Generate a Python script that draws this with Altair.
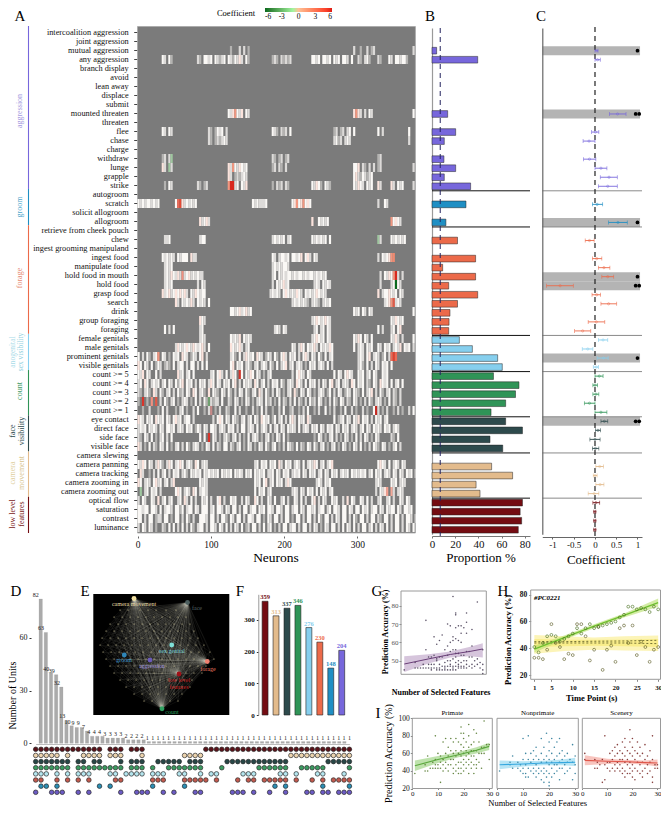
import altair as alt
import pandas as pd

SERIF = "Liberation Serif"
FEATURES = ["intercoalition aggression","joint aggression","mutual aggression","any aggression","branch display","avoid","lean away","displace","submit","mounted threaten","threaten","flee","chase","charge","withdraw","lunge","grapple","strike",
"autogroom","scratch","solicit allogroom","allogroom",
"retrieve from cheek pouch","chew","ingest grooming manipuland","ingest food","manipulate food","hold food in mouth","hold food","grasp food","search","drink","group foraging","foraging",
"female genitals","male genitals","prominent genitals","visible genitals",
"count >= 5","count >= 4","count >= 3","count >= 2","count >= 1",
"eye contact","direct face","side face","visible face",
"camera slewing","camera panning","camera tracking","camera zooming in","camera zooming out",
"optical flow","saturation","contrast","luminance"]
GROUP_NAMES = ["aggression","groom","forage","genitals","count","face","camera","low"]
GROUP_SIZES = [18,4,12,4,5,4,5,4]
GROUP_COLORS = ["#7767dc","#1f8fc4","#ec6a4a","#86cfee","#2f9457","#2d4a4c","#e3bb8c","#740c12"]

PROPORTION = [0,0,4,39.4,0,0,0,0,0,13.5,0,20.4,10.6,0,10.3,20.4,10.6,33.3,
0,29.3,0,12,
0,22,0,37.6,9.2,37.6,14.4,39.4,22,15.5,14.7,14.4,
23.6,34.8,56.6,60.6,
53,75,72,63.5,50.9,
63.5,78,50,61,
0,51.4,69.5,38,41.4,
78,76,77.3,74.4]

COEF_LO = [None,None,0,0,None,None,None,None,None,.34,None,-.08,-.28,None,-.27,0,.125,.08,
None,-.06,None,.32,
None,-.23,None,-.06,.08,.16,-1.14,-.07,.14,None,-.16,-.48,
.08,-.30,.05,-.04,
0,-.05,-.05,-.25,0,
.14,.01,-.12,-.06,
None,.02,-.04,.02,-.16,
-.05,-.03,-.03,-.03]
COEF_MID = [None,None,.04,.06,None,None,None,None,None,.53,None,.01,-.14,None,-.13,.14,.33,.30,
None,.05,None,.54,
None,-.13,None,.04,.21,.30,-.82,.04,.32,None,.03,-.29,
.19,-.17,.2,.03,
.1,0,.02,-.13,.14,
.22,.07,0,.01,
None,.11,0,.12,-.02,
.02,0,0,0]
COEF_HI = [None,None,.07,.125,None,None,None,None,None,.73,None,.09,0,None,.02,.28,.525,.525,
None,.18,None,.76,
None,-.02,None,.16,.35,.44,-.51,.13,.51,None,.23,-.10,
.30,-.05,.31,.08,
.19,.06,.09,0,.28,
.30,.13,.12,.09,
None,.2,.05,.21,.09,
.11,.02,.02,.02]
SIG_ONE = ["mutual aggression","allogroom","hold food in mouth","prominent genitals"]
SIG_TWO = ["mounted threaten","hold food","eye contact"]

# heat map stripes: one char is three neurons
SPARSE = {
"mutual aggression":[(126,"m"),(138,"l"),(144,"l"),(150,"m"),(294,"l"),(303,"m"),(312,"l"),(318,"m"),(321,"l"),(375,"l")],
"any aggression":[(34,"wl.wm"),(81,"lm.wwlw.wlmlw.wlmwlpl.wm"),(184,"mlm.lmlml"),(238,"wwlw.wwlw.wlw.wwl.w"),(300,"lm.lwm."),(327,"lm"),(344,"wl.wwlwwm")],
"mounted threaten":[(125,"wlprwlp.wl"),(294,"prpl.l.wl"),(375,"wl")],
"flee":[(34,"wl.wl"),(96,"lm.mwlw.l"),(183,"wlm.lml.w"),(267,"ml.ml.lw.w"),(327,"w.l"),(369,"w.")],
"chase":[(96,"lm.mlmlwl."),(267,"lwml.lwl"),(369,"l.")],
"withdraw":[(34,"ml.lg"),(183,"lm.ml.ml"),(327,"ml.")],
"lunge":[(34,"pl.gl"),(125,"plrwlpwlw."),(183,"ml.lm.l"),(294,"wwp.lm.l.l"),(327,"ml"),(375,"l")],
"grapple":[(125,"pl.mlmlwl."),(294,"wplmwlmlw")],
"strike":[(36,"m.wl."),(81,"lm.ml"),(125,"rSRlw.wlp"),(183,"m.lml.lm"),(238,"wlpwm.wlm"),(294,"wlpwl.wlw"),(327,"pl."),(345,"pl.wlw"),(375,"l")],
"scratch":[(1,"wlwlwwlwlw."),(51,"wlRplwlwlw"),(158,"wlwlllw."),(210,"wprwprwpw"),(327,"l"),(336,"wl")],
"allogroom":[(84,"plwpl"),(238,"p"),(247,"wlwlw."),(346,"rwpwl")],
"chew":[(36,"llw."),(85,"lww."),(184,"lwlwlw.lw"),(238,"wlwlwlw.w"),(327,"gl."),(345,"wlwlwlw")],
"ingest food":[(35,"wlwlwl.wlwww.pll"),(183,"wl.lwwlw.wwlwp.wpl.wl"),(328,"l.wlwprl.")],
"manipulate food":[(36,"lwlw."),(183,"lwlwlwwl.")],
"hold food in mouth":[(37,"lwlpwlplwlwplwlwll"),(184,"lw.wlwlwwlwlwwlwlwwlwlwlw"),(331,"l.wlpwrwl.l")],
"hold food":[(37,"lwlw"),(83,"l.wl"),(184,"l.wlwplw"),(242,"lwl.wlwl"),(331,"l.."),(345,"lwgwl")],
"grasp food":[(34,"plwplwpwpwpl.wlpwlww"),(182,"lwlwl.wpwlwlpwl.wlwlwpwlwl"),(328,"p.lwwpwlw.wl")],
"search":[(51,"pl.wlwlpl.wlwl.w"),(210,"lwlwlwlm.lwlm.lwlw"),(337,"lwprwlwl")],
"drink":[(125,".wwlwplwplw"),(294,"wlw.wl.wl"),(375,"w")],
"group foraging":[(84,"pwl."),(238,"lwpwlwpwl"),(345,"wlpwlw")],
"foraging":[(37,"w.l.w"),(85,"lw."),(187,"lwl.wl"),(240,"lw.lw.wl"),(328,"w.l"),(345,"lw.wp.")],
"female genitals":[(84,"lwl"),(126,"wlwlp.wlwl"),(238,"lwpwlw.wl"),(295,"wlpw.wl.w"),(345,"wlpl.l"),(375,"w")],
"male genitals":[(51,"lpwlwpwlpwlwpl.w"),(126,"pwlwpl.lw."),(211,"wl.lpw.wlwpl.wlwlpw"),(295,"w.lwl.wlw"),(327,"wl.wlw.lwlp.wlw.l.lwl")],
}
DENSE = {
"prominent genitals":"w.l.wm.lwr .wl.m.wlw. pwl.mwl.wp .lwm.pl.wm w.lwm.w.lp wlw.pwl.mw l.wm.wpl.w lw.l.wpl.w l.wm.w.lw. lwm.wp.lw. lwl.wp.lwl .mw.l.w",
"visible genitals":"pw.wl.w.mw l.mlm.w.lw w.l.ww.l.w .wl.wmw.lw l.wp.wlw.l wm.lw.lwl. wm.w.lwp.l w.lwl.m.wl w.lwl.w.l. wl.w.lw.w. lwm.w.l.wl .wlw.w.",
"count >= 5":"wlp.wl..w. l.ww.lw.pl w.lw.w.l.m w.plw.wpl. w.lpw.lw.w lpw.wl.m.l w.lwp.w.lw l.wpwl.wl. wlw.prwl.w .wl.wpwl.. wlw.lw.wl. .wlw.w.lw.w",
"count >= 4":"lw.pw.lwlw .lw.wl.wmw p.wlw.l.wl w.lpw.wl.w lw.wp.l.wl wl.pw.lw.l .wlw.wm.lw l.pwl.w.wl w.l.wl.wp. lw.lwl.pw. wlw.lm.wl. pwlw.w.lw.w",
"count >= 3":"lm.lwm.pl. wm.lw.l.wm l.wl.pw.lw m.p.wlm.wl .wm.l.wl.w m.lw.pl.wm .l.wl.m.lw .pm.wl.wl. m.lwl.mw.l .wl.mwl.wl m.w.lwp.l. wm.lw.lm.l.",
"count >= 2":"m.r.m.l.m. l.wm.lw.m. lwl.m.w.l. wm.lmll.w. .lm.wl.m.w l.m.lwl.wm l.m.w.lm.l .w.lm.l.wm l.wl.m.l.w m.wl.lm.wl .m.l.wm.lw l.m.w.lm.l.",
"count >= 1":"..m..l...m .w.l...m.l w.m..l.w.. m.l..m.l.. lm..w.l..m ..l.m.w.l. .m..l.w..m l..m.l.w.. m.l..w.m.l ..m.w..l.m ..l.m..w.l .m.l..m.l. m..l.w..l.",
"eye contact":"pwl.wlw.pw lw.wl.wplw .lww.l.wm. wlw.l.wpw. wl.wlm.lw. lw.wl.pwlw .mw.lw.l.w pl.wlw.pl. wlw.lm.wlw .mlw.wl.wl p.wlw.l.wl w.lw.mw.pl..",
"direct face":"lwlw.wlwl. wl.wwlw.lw l.wlw.mwl. wl.wwl.lwl .wlw.l.ww. lwl.w.lwl. w.lw.wl.wl wl.w.lwl.w lw.wl.wlw. wl.wlw.lwl .lw.wl.wlw l.wlw.lwl..",
"side face":"lm.wl.w.m. lw.l.w.m.l w.l.m.wlw. w.l.wl.m.l wm.lw.l.m. w.lwl.m.lw .m.wl.w.m. l.wm.l.wl. m.wl.m.lw. l.m.wl.m.w .l.wl.m.wl .m.w.lm.w.",
"visible face":"pl.m.w.lm. wl.w.m.lw. l.wm.lwl.m .wl.w.lm.w w.lm.lw.m. wl.m.wl.wm .lw.m.l.wl m.w.lm.wl. wm.lw.m.lw .m.wl.m.wl .w.m.l.wlm .wl.m.lw.l.",
"camera panning":"wlpw.wl.lp wm.lpw.lwp w.lwl.pw.l wl.lw.wl.w lw.lpw.lwl ww.lw.wlw. wlw.pl.wlw .lwl.w.lwl pw.lw.lwp. wl.w.lw.l. w.lw.lwl.w pwl.w.lwl. wlw.w.lwl.l",
"camera tracking":".pl..m.l.w .lw.l.wlw. lwm.wlwlw. wlwlwlw.wl wlw.wlwl.w lw.wlwlw.l lw.wl.wlw. lwlw.wl.wl w.lw.wl.wl w.lwlw.wlw lwlw.lw.wl w.lwl.wl.w l.wlw.wl.",
"camera zooming in":"pw.lwl.wpl w.lw.lpw.l wlw.lpw.wl wl.pwl.w.l w.l.w.lpw. wl.wlw.wp. lw.wlw.lpw .lwl.w.wlw .lwl.wlw.l .wpl.wlw.l w.wlpw.wlw l.wl.wlw.l wlw.pwl.w.",
"camera zooming out":".g.lw.wlw. lw.lpl.wpw .lwl.pw.lw wl.lw.w.lw lw.wlw.lwp .wlw.wlw.l wl.lw.wlw. lwl.wl.wlw .w.wlw.lw. wl.wlw.lwl ..wlw.wgl.w lpw.wl.lwl .w.wlw.",
"optical flow":"l.wl..wl.p .lw.lw..lw .pl.w.l..w lw.l..wp.l ..wlw..l.w l..pw.l..w l.w..lw.l. .wl.w.l..w p.l.wl..wl w..l.p.wl. .wl.w.l..l w..lw.l..w l.wl..",
"saturation":"wwlww.wwl. w.lwwl.wwm w.lww.wl.w ww.lw.wwl. wl.ww.l.ww .lww.wlw.w wl.wwl.ww. lww.wl.wwl w.lww.lw.w wl.ww.wl.w w.wlw.lww. wl.wlww.wl .wwlw.",
"contrast":"ww.l.ww.ml l.ww.m.ww. l.wm.l..ww wl.ww.l.ww m.wl.ww.l. wwl.ww.m.w l.ww.l.ww. m.ww.l.ww. l.wm.ww.l. wl.ww.l.wm .ww.l.ww.l m.ww.l.ww. l.wwl.w",
"luminance":"l.wl.wl.m. .lm.w.w.l. w.l.wm.lww .l.wwl.wl. w.l.wl.w.m l.ww.l.w.l w.m.l.ww.l ww.l.ww.l. wl.m.wl.ww .l.w.wl.w. l.ww.lw.l. wl.w.l.ww. l.wl.w.",
}
GRAY_BLOCKS = {
"prominent genitals":[(97,126),(267,295)],
"visible genitals":[(97,126),(267,295)],
"count >= 5":[(35,51),(82,97),(183,210),(239,267),(344,368)],
"eye contact":[(82,97),(240,267),(344,366)],
"side face":[(51,82),(208,239),(335,344)],
"camera panning":[(97,158),(267,322),(366,379)],
"camera zooming in":[(51,83),(97,158),(210,238),(267,323),(335,345),(366,379)],
"camera zooming out":[(34,51),(97,158),(183,210),(267,323),(366,379)],
}
ACCENTS = [("count >= 5",138,"#d8342a"),("count >= 2",7,"#d8342a"),("count >= 2",24,"#e05a48"),("count >= 2",18,"#f09080"),("count >= 2",98,"#6f9f6f"),
("count >= 1",324,"#c82820"),("count >= 1",100,"#c78a88"),("prominent genitals",348,"#e0402e"),("prominent genitals",345,"#ec6a56"),("prominent genitals",351,"#ec6a56"),
("camera zooming out",341,"#f5a090"),("camera zooming out",345,"#f4a898"),("side face",98,"#d8342a"),("strike",129,"#d8281e"),("hold food in mouth",351,"#d8281e"),
("hold food",351,"#0b6a1e"),("hold food in mouth",60,"#f09080"),("ingest food",349,"#ef8a70"),("scratch",54,"#e86a58"),("search",350,"#e05a48")]
CHAR_COLOR = {"w":"#faf8f5","l":"#dcdad8","m":"#b4b3b1","p":"#fbe3dc","r":"#f2967f","R":"#e44a35","S":"#d8281e","g":"#9fc79f"}

# UpSet panel
UPSET_COUNTS = [82,63,40,39,32,13,10,9,9,7,4,4,4,3,3,3,3,2,2,2,2]+[1]*39
UPSET_ROWS = [
[0,1,2,3,4,5,6,7,8,9,10,11,12,14,15,16,18,19,20,32,33,34,35,36,37,38,39,40,41,42,43,44,45,46,47,48,49,50,51,52,53,54,55,56,57,58,59],
[0,1,2,3,4,6,9,10,11,12,14,15,16,20,28,29,30,31,48,49,50,51,52,53,54,55,56,57,58,59],
[0,1,2,3,4,5,6,8,9,11,12,16,18,19,20,23,24,25,26,27,29,30,31,36,37,38,39,40,41,42,43,44,45,46,47,55,56,57,58,59],
[0,1,2,3,4,5,6,8,9,10,11,12,13,14,15,16,18,19,20,22,25,26,27,28,29,30,31,35,42,43,44,45,46,47,50,51,52,53,54,59],
[0,1,2,4,6,8,9,10,14,15,17,18,19,20,22,23,24,27,28,31,33,34,39,40,41,46,47,49,53,54,58],
[0,1,4,6,8,10,15,16,22,23,24,28,29,30,31,32,34,38,40,41,43,44,45,46,47,49,52,54,56,57,58,59],
[1,2,4,12,14,22,28,45,47,54,59],
[0,3,4,5,8,10,16,19,20,21,24,26,30,31,37,38,39,41,44,47,51,52,54,55,57,58,59],
]
UPSET_COLORS = ["#5b1219","#ecd3ad","#274646","#3b9a60","#b5e6ef","#c35a4e","#2b8fb5","#6c5bc4"]

# network panel
E_HUBS = {"camera":(134,598.5,"#f0dfa0"),"face":(187.5,602.5,"#4d5f5f"),"genital":(171.7,645,"#7fe0d8"),"forage":(207.3,661.5,"#f08070"),
"low":(179,674,"#a01018"),"count":(162,708.7,"#2fa060"),"aggression":(150,660,"#6a5ab8"),"groom":(124.3,655,"#2f86b8")}
E_DOTS = {610:[120,128,140,148,156,166,176],
617:[114,122,130,138,146,154,162,170,178,186],
624:[110,118,126,134,142,150,158,166,174,182,190],
631:[106,114,122,130,138,146,154,162,170,178,186,194],
638:[102,110,118,126,134,142,150,158,166,174,182,190,198],
645:[100,108,116,124,132,140,148,156,164,180,188,196,204],
652:[103,111,119,127,135,143,151,159,167,175,183,191,199,210],
659:[106,114,122,130,138,146,154,162,170,178,186,194,214],
666:[110,118,126,134,142,150,158,166,174,190,198,206],
673:[114,122,130,138,146,154,162,186,194,202],
680:[120,128,136,144,152,160,168,176,184,192],
687:[126,134,142,150,158,166,174,182,190],
694:[134,142,150,158,166,174,182],
701:[144,152,170,178]}

F_NAMES = ["low","camera","face","count","genitals","forage","groom","aggression"]
F_VALUES = [359,313,337,346,276,230,148,204]
F_COLORS = ["#740c12","#e3bb8c","#2d4a4c","#2f9457","#86cfee","#ec6a4a","#1f8fc4","#7767dc"]

G_POINTS = {1:[45],5:[49,46],6:[46],7:[46],8:[48,46],9:[72,56,46],10:[52,46,48],11:[52,48,46,45],12:[46,48,53,63],13:[46,50,45,51,59],14:[48,46,45,52,61],15:[64,52,47,45],16:[56,49,47,46,45],17:[70,58,53,47,45,50],18:[69,60,50,48,47,45,55],19:[85,63,61,56,51,47,46,45],20:[75,76,68,62,56,52,49,47,45,54],21:[69,61,54,50,47,46,48],22:[69,65,60,53,49,47,46],23:[68,53,50,47,46],24:[76,71,65,55,50,48,46],25:[55,52,47],26:[67,58,52,48,46],27:[50,47],28:[82,51,48],29:[49,46],30:[56,48,45,43]}
H_GREEN = [41,37,44,49,50,49,45,47,49,51,55,51,55,58,55,56,57,58,59,60,63,65,71,71,69,70,69,67,71,69]
H_CHANCE = [33,33,32,39,58,44,41,32,36,35,58,58,49,31,39,56,24,39,42,30,55,57,44,57,35,45,41,30,39,41]
I_PRIMATE = {1:[37],5:[40,47],6:[40,57],7:[43],8:[50,43],9:[80,53,47,43],10:[60,47,43],11:[27,57,50,43],12:[73,53,47,40],13:[77,60,50,43],14:[67,57,47,40],15:[77,63,53,47],16:[73,60,53,43,37],17:[77,63,57,47,40],18:[73,60,50,43,37],19:[90,83,70,63,57,50,43,37],20:[83,77,67,60,53,47,40],21:[73,63,57,50,43],22:[93,80,67,60,53,47,37],23:[70,63,57,50,43],24:[87,73,63,57,47,37],25:[83,63,53,47,43],26:[73,60,50],27:[67,60,43],28:[97,67,60],29:[70],30:[70,53]}
I_NONPRIMATE = {1:[40],5:[50,47],6:[57,43],8:[50,43],9:[47,40],10:[77,53,43,37],11:[60,47,37,33],12:[80,53,43,33],13:[60,50,40],14:[63,53,43,37],15:[67,57,47,40,33],16:[53,43,37],17:[77,60,50,40,30],18:[67,53,43,37,27],19:[83,57,50,40,33],20:[73,63,53,47,37,27,23],21:[77,60,50,43,33],22:[67,53,47,37],23:[73,57,47,40],24:[77,60,50,43,30],25:[63,53,43],26:[57,47,37],27:[60,50,40],28:[53,43],29:[70,50,30],30:[57,47,37]}
I_SCENERY = {1:[60,53],5:[53,43],6:[50,43],7:[47],8:[53,27],9:[80,30,47],10:[50,43],11:[60,50,40],12:[63,53,43],13:[67,57,47,40],14:[70,60,50,43],15:[63,53,47,40],16:[73,60,53,43,37],17:[77,67,57,50,40,33],18:[63,53,47,37],19:[87,73,60,50,43,37],20:[77,67,57,47,40,33],21:[63,53,43,30],22:[73,60,50,40],23:[67,57,47,37],24:[60,50,40,33],25:[70,53,43],26:[57,47,37],27:[63,50,40],28:[80,53,33,27],29:[47,43],30:[47,43]}
G_FIT = {"x":[1,10,18,25,30],"y":[48.2,51,53.4,55,56.4],"lo":[43.8,48.5,51.8,52.5,51.8],"hi":[52.5,53.5,55,57.5,59.5]}
H_FIT = {"x":[1,8,15,22,30],"y":[39.5,48,56.5,64.5,74],"lo":[37,46.5,55,63,71],"hi":[42,49.5,58,66,77]}
H_FLAT = {"x":[1,8,15,22,30],"lo":[36,38,39,38.5,38],"hi":[50,49,48,49,49.5],"lo2":[41,41.5,42,41.5,41],"hi2":[47,46.5,46.5,46.5,47],"a":[44,44,44,44,43.5],"b":[45,45,45.3,45.5,46]}
I_FITS = {"primate":{"x":[1,10,18,25,30],"y":[46,53,58.5,63.5,68],"lo":[40,49,55.5,60,64],"hi":[52,57,61.5,67,72]},
"nonprimate":{"x":[1,10,18,25,30],"y":[47,48,49,49.5,50],"lo":[42,45,46.5,46.5,45.5],"hi":[52,51,51.5,53,55]},
"scenery":{"x":[1,10,18,25,30],"y":[52,51,50.5,49.5,49],"lo":[46.5,48,48.5,47,45],"hi":[58,54,52.5,52,53]}}

W, H = 653, 799
ONE = pd.DataFrame({"a": [0]})
L = []

def qs(dom, a, b):
    return alt.Scale(domain=dom, range=[a - 8, b - 8], nice=False, zero=False)

def Xq(f, dom, a, b, axis=None):
    return alt.X(f, type="quantitative", scale=qs(dom, a, b), axis=axis)

def Yq(f, dom, a, b, axis=None):
    return alt.Y(f, type="quantitative", scale=qs(dom, a, b), axis=axis)

def bottom(y, **kw):
    kw.setdefault("title", None)
    return alt.Axis(orient="bottom", offset=y - 8 - H, **kw)

def left(x, **kw):
    kw.setdefault("title", None)
    return alt.Axis(orient="left", offset=-(x - 8), **kw)

def label(text, x, y, size=9, color="black", angle=0, weight="normal", style="normal", align="center", font=SERIF):
    L.append(alt.Chart(ONE).mark_text(font=font, fontSize=size, color=color, angle=angle, fontWeight=weight,
                                      fontStyle=style, align=align, baseline="middle")
             .encode(x=alt.value(x - 8), y=alt.value(y - 8), text=alt.value(text)))

def box(x0, x1, y0, y1, fill="transparent", stroke="#9a9a9a", sw=1.0):
    L.append(alt.Chart(ONE).mark_rect(fill=fill, stroke=stroke, strokeWidth=sw)
             .encode(x=alt.value(x0 - 8), x2=alt.value(x1 - 8), y=alt.value(y0 - 8), y2=alt.value(y1 - 8)))

def expand(d):
    return pd.DataFrame([{"x": x, "y": y} for x, ys in d.items() for y in ys])

group_of = []
for n, s in zip(GROUP_COLORS, GROUP_SIZES):
    group_of += [n] * s
edges = []
t = 0
for s in GROUP_SIZES:
    edges.append((t, t + s))
    t += s

# ---------- A ----------
A_X0, A_X1 = 137.5, 137.5 + 379 * 0.7333
box(A_X0, A_X1, 26.5, 533, fill="#7b7b7b", stroke="#a8a8a8", sw=0.8)
bg = pd.DataFrame({"feature": FEATURES, "a": 0, "b": 379})
row_band = alt.Scale(domain=FEATURES, range=[26.5 - 8, 533 - 8], paddingInner=0, paddingOuter=0, round=True)
L.append(alt.Chart(bg).mark_rect(opacity=0).encode(
    x=Xq("a", [0, 379], A_X0, A_X1, bottom(536, values=[0, 100, 200, 300], labelFontSize=9.5, tickColor="#666",
                                           domain=False, tickSize=2, labelPadding=1)),
    x2="b",
    y=alt.Y("feature:N", scale=row_band, sort=FEATURES,
            axis=left(136.7, labelFontSize=8.3, tickSize=3, labelPadding=5.5, domain=False, tickColor="#444",
                      labelLimit=200, labelBaseline="middle"))))
cells = []
for fi, feat in enumerate(FEATURES):
    arr = ["."] * 127
    for st, pat in SPARSE.get(feat, []):
        c0 = st // 3
        for j, ch in enumerate(pat):
            if c0 + j < 127:
                arr[c0 + j] = ch
    if feat in DENSE:
        pat = DENSE[feat].replace(" ", "")
        for j, ch in enumerate(pat[:127]):
            arr[j] = ch
    for a, b in GRAY_BLOCKS.get(feat, []):
        for j in range(a // 3, min(127, (b + 2) // 3)):
            arr[j] = "."
    vals = [CHAR_COLOR.get(ch) for ch in arr]
    for fn, ne, col in ACCENTS:
        if fn == feat:
            vals[ne // 3] = col
    j = 0
    while j < 127:
        k = j
        while k + 1 < 127 and vals[k + 1] == vals[j]:
            k += 1
        if vals[j] is not None:
            cells.append({"feature": feat, "a": j * 3, "b": min(379, (k + 1) * 3), "c": vals[j]})
        j = k + 1
L.append(alt.Chart(pd.DataFrame(cells)).mark_rect(strokeWidth=0).encode(
    x=Xq("a", [0, 379], A_X0, A_X1), x2="b",
    y=alt.Y("feature:N", scale=row_band, sort=FEATURES, axis=None),
    color=alt.Color("c:N", scale=None)))
LEGEND_VALUES = [-6, -3, 0, 3, 6]
L.append(alt.Chart(pd.DataFrame({"k": LEGEND_VALUES})).mark_point(opacity=0).encode(
    x=alt.value(300), y=alt.value(10),
    color=alt.Color("k:Q", scale=alt.Scale(domain=[-6, 0, 6], range=["#0b6a1e", "#ffffff", "#dd1c14"]),
                    legend=alt.Legend(orient="none", legendX=257, legendY=-3, direction="horizontal", title=None,
                                      gradientLength=67, gradientThickness=7, values=LEGEND_VALUES, symbolOpacity=1,
                                      labelFont=SERIF, labelFontSize=7.5, labelExpr="datum.value", labelOffset=1))))
label("Coefficient", 236, 13, size=8.5)

strip = pd.DataFrame({"a": [e[0] for e in edges], "b": [e[1] for e in edges], "c": GROUP_COLORS})
L.append(alt.Chart(strip).mark_rule(strokeWidth=1.1).encode(
    x=alt.value(28.5 - 8), y=Yq("a", [0, 56], 26, 533), y2="b", color=alt.Color("c:N", scale=None)))
label("aggression", 20, 111, size=8, color="#a39ae0", angle=270)
label("groom", 20, 207, size=8, color="#4ca6cc", angle=270)
label("forage", 20, 278, size=8, color="#e58a72", angle=270)
label("anogenital", 13, 352, size=7.5, color="#a8dbe8", angle=270)
label("sex visibility", 21, 352, size=7.5, color="#8fd0e0", angle=270)
label("count", 20, 391, size=8, color="#3f9a66", angle=270)
label("face", 13, 431, size=8, color="#2d4a4c", angle=270)
label("visibility", 22, 431, size=8, color="#2d4a4c", angle=270)
label("camera", 13, 473, size=8, color="#e0cfa0", angle=270)
label("movement", 22, 473, size=8, color="#d8c48e", angle=270)
label("low level", 13, 514, size=8, color="#7a1a20", angle=270)
label("features", 22, 514, size=8, color="#7a1a20", angle=270)
label("Neurons", 276, 558, size=13.5)
label("A", 20, 16, size=15)
label("B", 430, 16, size=15)
label("C", 541, 16, size=15)

# ---------- B ----------
bars = pd.DataFrame({"feature": FEATURES, "v": PROPORTION, "c": group_of})
bars = bars[bars.v > 0]
band_b = alt.Scale(domain=FEATURES, range=[28.1 - 8, 534.3 - 8], paddingInner=0.26, paddingOuter=0.13)
BX = ([0, 84.5], 432, 530)
L.append(alt.Chart(bars).mark_bar(stroke="#222", strokeWidth=0.5).encode(
    x=Xq("v", *BX, axis=bottom(536, values=[0, 20, 40, 60, 80], labelFontSize=11, domain=True, domainColor="#777",
                               tickColor="#777", tickSize=2, labelPadding=0)),
    y=alt.Y("feature:N", scale=band_b, sort=FEATURES, axis=left(432, labels=False, ticks=False, domainColor="#9a9a9a", domainWidth=1.2)),
    color=alt.Color("c:N", scale=None)))
sep = pd.DataFrame({"r": [18, 22, 34, 38, 43, 47, 52]})
L.append(alt.Chart(sep).mark_rule(color="#111", strokeWidth=1).encode(
    y=Yq("r", [0, 56], 28.1, 534.3), x=alt.value(432 - 8), x2=alt.value(530 - 8)))
L.append(alt.Chart(pd.DataFrame({"v": [7.1]})).mark_rule(color="#23235f", strokeWidth=1, strokeDash=[5, 4]).encode(
    x=Xq("v", *BX), y=alt.value(28 - 8), y2=alt.value(536 - 8)))
label("Proportion %", 481, 558, size=13)

# ---------- C ----------
CX = ([-1.24, 1.106], 542.3, 642)
band_c = alt.Scale(domain=FEATURES, range=[28.1 - 8, 534.3 - 8], paddingInner=0, paddingOuter=0)
sig = pd.DataFrame({"feature": SIG_ONE + SIG_TWO, "a": -1.24, "b": 1.06})
L.append(alt.Chart(sig).mark_rect(color="#b4b4b4").encode(
    x=Xq("a", *CX, axis=bottom(537, values=[-1, -.5, 0, .5, 1], labelFontSize=9, labelExpr="datum.value", domainColor="#666",
                               tickColor="#666", tickSize=2, labelPadding=1)),
    x2="b",
    y=alt.Y("feature:N", scale=band_c, sort=FEATURES, axis=left(542.3, labels=False, ticks=False, domainColor="#666", domainWidth=1.2))))
L.append(alt.Chart(sep).mark_rule(color="#8a8a8a", strokeWidth=1).encode(
    y=Yq("r", [0, 56], 28.1, 534.3), x=alt.value(542.3 - 8), x2=alt.value(642 - 8)))
L.append(alt.Chart(pd.DataFrame({"v": [0]})).mark_rule(color="#222", strokeWidth=1.2, strokeDash=[5, 4]).encode(
    x=Xq("v", *CX), y=alt.value(27 - 8), y2=alt.value(536 - 8)))
ci = pd.DataFrame({"feature": FEATURES, "lo": COEF_LO, "mid": COEF_MID, "hi": COEF_HI, "c": group_of}).dropna()
for fld, _mark in (("lo", "t"), ("hi", "t")):
    L.append(alt.Chart(ci).mark_tick(orient="vertical", size=4, thickness=0.8).encode(
        x=Xq(fld, *CX), y=alt.Y("feature:N", scale=band_c, sort=FEATURES, axis=None), color=alt.Color("c:N", scale=None)))
L.append(alt.Chart(ci).mark_rule(strokeWidth=0.9).encode(
    x=Xq("lo", *CX), x2="hi", y=alt.Y("feature:N", scale=band_c, sort=FEATURES, axis=None), color=alt.Color("c:N", scale=None)))
L.append(alt.Chart(ci).mark_point(filled=False, size=5, strokeWidth=0.7).encode(
    x=Xq("mid", *CX), y=alt.Y("feature:N", scale=band_c, sort=FEATURES, axis=None), color=alt.Color("c:N", scale=None)))
stars = pd.DataFrame([{"feature": f, "x": 1.0} for f in SIG_ONE] + [{"feature": f, "x": x} for f in SIG_TWO for x in (.957, 1.04)])
L.append(alt.Chart(stars).mark_circle(color="#000", size=14, opacity=1).encode(
    x=Xq("x", *CX), y=alt.Y("feature:N", scale=band_c, sort=FEATURES, axis=None)))
label("Coefficient", 596, 559.5, size=13)

# ---------- D ----------
dcol = pd.DataFrame({"i": range(len(UPSET_COUNTS)), "n": UPSET_COUNTS})
DX = ([0, 59], 35.7, 349.4)
DY = ([0, 82], 743.3, 599)
L.append(alt.Chart(dcol).mark_bar(size=3.4, color="#ababab", stroke="#999", strokeWidth=0.2).encode(
    x=Xq("i", *DX, axis=bottom(744, labels=False, ticks=False, domainColor="#bbbbbb")),
    y=Yq("n", *DY, axis=left(31, values=[0, 30, 60], labelFontSize=8, tickSize=2, domain=False, tickColor="#333", labelPadding=2))))
L.append(alt.Chart(dcol).mark_text(font=SERIF, fontSize=6, dy=-4, color="#222").encode(
    x=Xq("i", *DX), y=Yq("n", *DY), text="n:Q"))
label("Number of Units", 13, 695.5, size=10, angle=270)
dots = pd.DataFrame([{"i": i, "r": r, "c": UPSET_COLORS[r]} for r, cols in enumerate(UPSET_ROWS) for i in cols])
L.append(alt.Chart(dots).mark_point(filled=True, size=21, stroke="#2a2a2a", strokeWidth=0.7, opacity=1).encode(
    x=Xq("i", *DX), y=Yq("r", [0, 7], 749.3, 792.3), fill=alt.Fill("c:N", scale=None)))
label("D", 16, 591, size=15)

# ---------- E ----------
box(93.3, 229.3, 594, 715, fill="#000000", stroke="#000000", sw=0)
EXS = ([93.3, 229.3], 93.3, 229.3)
EYS = ([594, 715], 594, 715)
dots_e = pd.DataFrame([{"x": x, "y": y} for y, xs in E_DOTS.items() for x in xs])
links = []
for hub in ("camera", "face", "count", "low", "forage"):
    hx, hy, _ = E_HUBS[hub]
    for _, d in dots_e.iterrows():
        links.append({"x": d.x, "y": d.y, "x2": hx, "y2": hy})
L.append(alt.Chart(pd.DataFrame(links)).mark_rule(color="#d8d8d0", strokeWidth=0.3, opacity=0.2).encode(
    x=Xq("x", *EXS), x2="x2", y=Yq("y", *EYS), y2="y2"))
L.append(alt.Chart(dots_e).mark_circle(color="#d8cc98", size=1.5, opacity=0.9).encode(x=Xq("x", *EXS), y=Yq("y", *EYS)))
hubs = pd.DataFrame([{"n": k, "x": v[0], "y": v[1], "c": v[2]} for k, v in E_HUBS.items()])
L.append(alt.Chart(hubs).mark_circle(size=24, opacity=1).encode(
    x=Xq("x", *EXS), y=Yq("y", *EYS), color=alt.Color("c:N", scale=None)))
label("camera movement", 134, 604, size=6, color="#e8dca8")
label("face", 197, 608, size=6, color="#566")
label("sex genital", 172, 650.5, size=6, color="#70d0d8")
label("groom", 124, 660, size=6, color="#3a9ad0")
label("aggression", 152, 665.5, size=6, color="#a99ee0")
label("forage", 208, 668.5, size=6, color="#f07a60")
label("low level", 179, 680, size=6, color="#d02020")
label("features", 179, 686.5, size=6, color="#d02020")
label("count", 172, 711.5, size=6, color="#2fa060")
label("E", 85, 591, size=15)

# ---------- F ----------
fdf = pd.DataFrame({"n": F_NAMES, "v": F_VALUES, "c": F_COLORS})
f_band = alt.Scale(domain=F_NAMES, range=[259.6 - 8, 347.2 - 8], paddingInner=0.46, paddingOuter=0.23)
FY = ([0, 381], 715, 594.3)
L.append(alt.Chart(fdf).mark_bar(stroke="#222", strokeWidth=0.6).encode(
    x=alt.X("n:N", scale=f_band, sort=F_NAMES, axis=None),
    y=Yq("v", *FY, axis=left(258.3, values=[0, 100, 200, 300], labelFontSize=7, labelFontWeight="bold", tickSize=2,
                             domainColor="#999", tickColor="#333", labelPadding=2)),
    color=alt.Color("c:N", scale=None)))
L.append(alt.Chart(fdf).mark_text(font=SERIF, fontSize=6.5, fontWeight="bold", dy=-4).encode(
    x=alt.X("n:N", scale=f_band, sort=F_NAMES, axis=None), y=Yq("v", *FY), text="v:Q",
    color=alt.Color("c:N", scale=None)))
label("F", 240, 591, size=15)

# ---------- G ----------
GXS = ([-0.2, 31.3], 401, 486.3)
GYS = ([42.6, 88], 674.3, 591)
box(401, 486.3, 591, 674.3)
gfit = pd.DataFrame(G_FIT)
L.append(alt.Chart(gfit).mark_area(color="#b595c0", opacity=0.55).encode(
    x=Xq("x", *GXS), y=Yq("lo", *GYS, axis=left(401, values=[50, 60, 70, 80], labelFontSize=7, tickSize=2, domain=False, labelPadding=1, labelColor="#555")), y2="hi"))
L.append(alt.Chart(expand(G_POINTS)).mark_circle(color="#4a4058", size=2.5, opacity=0.9).encode(x=Xq("x", *GXS), y=Yq("y", *GYS)))
L.append(alt.Chart(gfit).mark_line(color="#6a3f78", strokeWidth=1).encode(x=Xq("x", *GXS), y=Yq("y", *GYS)))
label("Prediction Accuracy (%)", 386, 632, size=8, weight="bold", angle=270)
label("Number of Selected Features", 441, 693, size=8, weight="bold")
label("G", 377, 591, size=15)

# ---------- H ----------
HXS = ([0.15, 31.2], 530.7, 663.3)
HYS = ([17, 83.4], 679.3, 590)
box(530.7, 660.5, 590, 679.3)
hf = pd.DataFrame(H_FLAT)
hg = pd.DataFrame(H_FIT)
L.append(alt.Chart(hf).mark_area(color="#fbef9a", opacity=0.7).encode(
    x=Xq("x", *HXS, axis=bottom(679.3, values=[1, 5, 10, 15, 20, 25, 30], labelFontSize=7, labelFontWeight="bold", tickSize=2, domain=False, labelPadding=2)),
    y=Yq("lo", *HYS, axis=left(530.7, values=[20, 40, 60, 80], labelFontSize=7.5, labelFontWeight="bold", tickSize=2, domain=False, labelPadding=2)), y2="hi"))
L.append(alt.Chart(hf).mark_area(color="#f6e76a", opacity=0.6).encode(x=Xq("x", *HXS), y=Yq("lo2", *HYS), y2="hi2"))
L.append(alt.Chart(hg).mark_area(color="#b7e06a", opacity=0.6).encode(x=Xq("x", *HXS), y=Yq("lo", *HYS), y2="hi"))
for fld in ("a", "b"):
    L.append(alt.Chart(hf).mark_line(color="#55551f", strokeWidth=0.8, strokeDash=[2, 2]).encode(x=Xq("x", *HXS), y=Yq(fld, *HYS)))
L.append(alt.Chart(hg).mark_line(color="#6fbf2f", strokeWidth=1.3).encode(x=Xq("x", *HXS), y=Yq("y", *HYS)))
days = list(range(1, 31))
L.append(alt.Chart(pd.DataFrame({"x": days, "y": H_CHANCE})).mark_point(filled=False, size=8, strokeWidth=0.6, color="#55551f", opacity=1).encode(x=Xq("x", *HXS), y=Yq("y", *HYS)))
L.append(alt.Chart(pd.DataFrame({"x": days, "y": H_GREEN})).mark_point(filled=False, size=8, strokeWidth=0.6, color="#3f6a15", opacity=1).encode(x=Xq("x", *HXS), y=Yq("y", *HYS)))
label("#PC0221", 534, 597.5, size=7, weight="bold", style="italic", align="left")
label("Prediction Accuracy (%)", 507.5, 640, size=8.5, weight="bold", angle=270)
label("Time Point (s)", 591.7, 698, size=8.5, weight="bold")
label("H", 503, 591, size=15)

# ---------- I ----------
panels = [("Primate", I_PRIMATE, I_FITS["primate"], 412.3, 492.3, "#a8d890", "#5aa83c", "#557a30", True),
          ("Nonprimate", I_NONPRIMATE, I_FITS["nonprimate"], 497, 578.3, "#9fdcf2", "#36a8e0", "#2a7a98", False),
          ("Scenery", I_SCENERY, I_FITS["scenery"], 582.3, 660.5, "#f5b0a8", "#e0564a", "#7a2a28", False)]
I_BOTTOM = 788.5
for name, pts, fit, x0, x1, band, line, pc, first in panels:
    xd = ([0, 31.2], x0, x1)
    yd = ([20, 100], I_BOTTOM, 718.3)
    box(x0, x1, 718.3, I_BOTTOM)
    fd = pd.DataFrame(fit)
    yax = left(x0, values=[20, 40, 60, 80, 100], labelFontSize=7.5, tickSize=2, domain=False, labelPadding=1) if first else None
    L.append(alt.Chart(fd).mark_area(color=band, opacity=0.75).encode(
        x=Xq("x", *xd, axis=bottom(I_BOTTOM, values=[0, 10, 20, 30], labelFontSize=7, tickSize=1, domain=False, labelPadding=0)),
        y=Yq("lo", *yd, axis=yax), y2="hi"))
    L.append(alt.Chart(expand(pts)).mark_circle(color=pc, size=2.5, opacity=0.9).encode(x=Xq("x", *xd), y=Yq("y", *yd)))
    L.append(alt.Chart(fd).mark_line(color=line, strokeWidth=1.1).encode(x=Xq("x", *xd), y=Yq("y", *yd)))
    label(name, (x0 + x1) / 2, 713, size=7)
label("Prediction Accuracy (%)", 389, 753.5, size=10, angle=270)
label("Number of Selected Features", 537.7, 803, size=8.5)
label("I", 378, 713, size=15)

chart = (alt.layer(*L)
         .resolve_scale(x="independent", y="independent", color="independent", fill="independent")
         .properties(width=W, height=H, padding=0, autosize=alt.AutoSizeParams(type="none"))
         .configure_view(stroke=None)
         .configure_axis(grid=False, labelFont=SERIF, titleFont=SERIF, labelColor="#111", labelOverlap=False, labelBound=False, labelFlush=False))
chart.save("out.html", embed_options={"renderer": "svg", "actions": False})
